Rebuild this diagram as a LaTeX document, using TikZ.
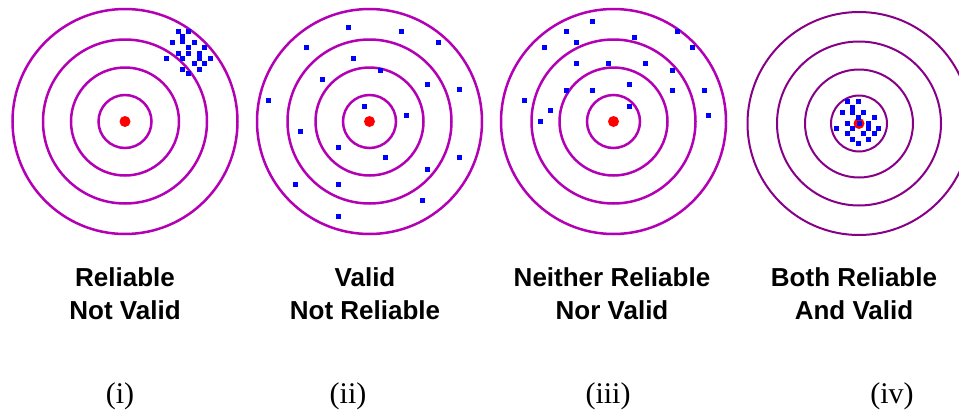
\documentclass[tikz,border=0pt]{standalone}
\usepackage{fontspec}
\setmainfont{Liberation Serif}
\newfontfamily\labelsans{Liberation Sans}
\usetikzlibrary{positioning}
\definecolor{ringmag}{HTML}{B400B4}
\definecolor{hitblue}{HTML}{0000FF}
\definecolor{bullred}{HTML}{FF0000}

\begin{document}
\begin{tikzpicture}[
    x=1pt, y=-1pt,
    ringline/.style={draw=ringmag, line width=2.5pt},
    dimring/.style={draw=ringmag!75!black, line width=2pt},
    bull/.style={fill=bullred},
    hitmark/.style={fill=hitblue},
    verdict/.style={align=center, inner sep=0pt, anchor=north,
      font=\labelsans\bfseries\fontsize{26}{33.3}\selectfont},
    tag/.style={inner sep=0pt, anchor=base, font=\fontsize{30}{36}\selectfont}
  ]
  \clip (0,0) rectangle (959,410);
  \fill[white] (0,0) rectangle (959,410);

  % target centres
  \coordinate (t1) at (125,121.5);
  \coordinate (t2) at (369.5,121.5);
  \coordinate (t3) at (613.5,121.5);
  \coordinate (t4) at (859,123.5);

  % rings and bull's eyes
  \foreach \c in {t1,t2,t3} {
    \foreach \r in {26.5,54,82,112.5}
      \draw[ringline] (\c) circle (\r);
    \fill[bull] (\c) circle (5.5);
  }
  \foreach \r in {28,54,82,111.5}
    \draw[dimring] (t4) circle (\r);
  \fill[bull] (t4) circle (5.5);

  % (i) tight but off centre
  \foreach \x/\y in {178.3/31, 188.3/31, 182.7/36.7, 172.3/42.7, 182.7/41.7,
      194.3/42.7, 188.3/47.3, 204/47.3, 178.3/53.3, 188.3/53.3, 199.3/53.3,
      166.7/58.3, 182.7/58.3, 199.3/58.3, 210/58.3, 194.3/63.3, 204/63.3,
      182.7/69.3, 199.3/69.3, 188.3/73.3}
    \fill[hitmark] (\x-2.5,\y-2.5) rectangle +(5,5);

  % (ii) spread round the centre
  \foreach \x/\y in {348.3/27.3, 401/31, 438.3/42.7, 306.3/47.3, 353.3/58.3,
      380/70, 322.3/79.3, 427.3/84.3, 459.3/89.3, 268.3/100, 364.3/106,
      406.3/115.7, 300.3/131.7, 338.3/147.7, 385.3/157.3, 459.3/157.3,
      427.3/169, 295.3/184.3, 338.3/184.3, 422.3/200, 338.3/216.7}
    \fill[hitmark] (\x-2.5,\y-2.5) rectangle +(5,5);

  % (iii) spread and off centre
  \foreach \x/\y in {592.3/21.7, 566.3/31, 677.3/31, 634.3/37.7, 576.3/42.7,
      544.3/47.3, 692.3/47.3, 576.3/63.3, 608.3/63.3, 645.3/63.3, 672.3/70,
      629.3/84, 566.3/90, 592.3/90, 672.3/90, 704.3/90, 524.3/100,
      629.3/106, 550.3/110, 708.3/115.7, 540.3/121.7}
    \fill[hitmark] (\x-2.5,\y-2.5) rectangle +(5,5);

  % (iv) tight on the centre
  \foreach \x/\y in {847.3/101.7, 858.3/101.7, 852.3/107.3, 842.3/112.3,
      852.3/112.3, 863.3/112.3, 874.3/117.7, 858.3/117.7, 847.3/123.3,
      868.3/123.3, 836.7/128.3, 852.3/128.3, 868.3/128.3, 878.3/128.3,
      847.3/133.3, 863.3/133.3, 874.3/133.3, 852.3/139.3, 868.3/139.3,
      858.3/143.3, 859/123.5}
    \fill[hitmark] (\x-2.5,\y-2.5) rectangle +(5,5);

  % captions
  \node[verdict] (lab1) at (125,267) {Reliable\\Not Valid};
  \node[verdict] (lab2) at (365,267) {Valid\\Not Reliable};
  \node[verdict] (lab3) at (612,267) {Neither Reliable\\Nor Valid};
  \node[verdict] (lab4) at (854,267) {Both Reliable\\And Valid};

  \node[tag] (num1) at (120,403) {(i)};
  \node[tag] (num2) at (348,403) {(ii)};
  \node[tag] (num3) at (608,403) {(iii)};
  \node[tag] (num4) at (892,403) {(iv)};
\end{tikzpicture}
\end{document}
